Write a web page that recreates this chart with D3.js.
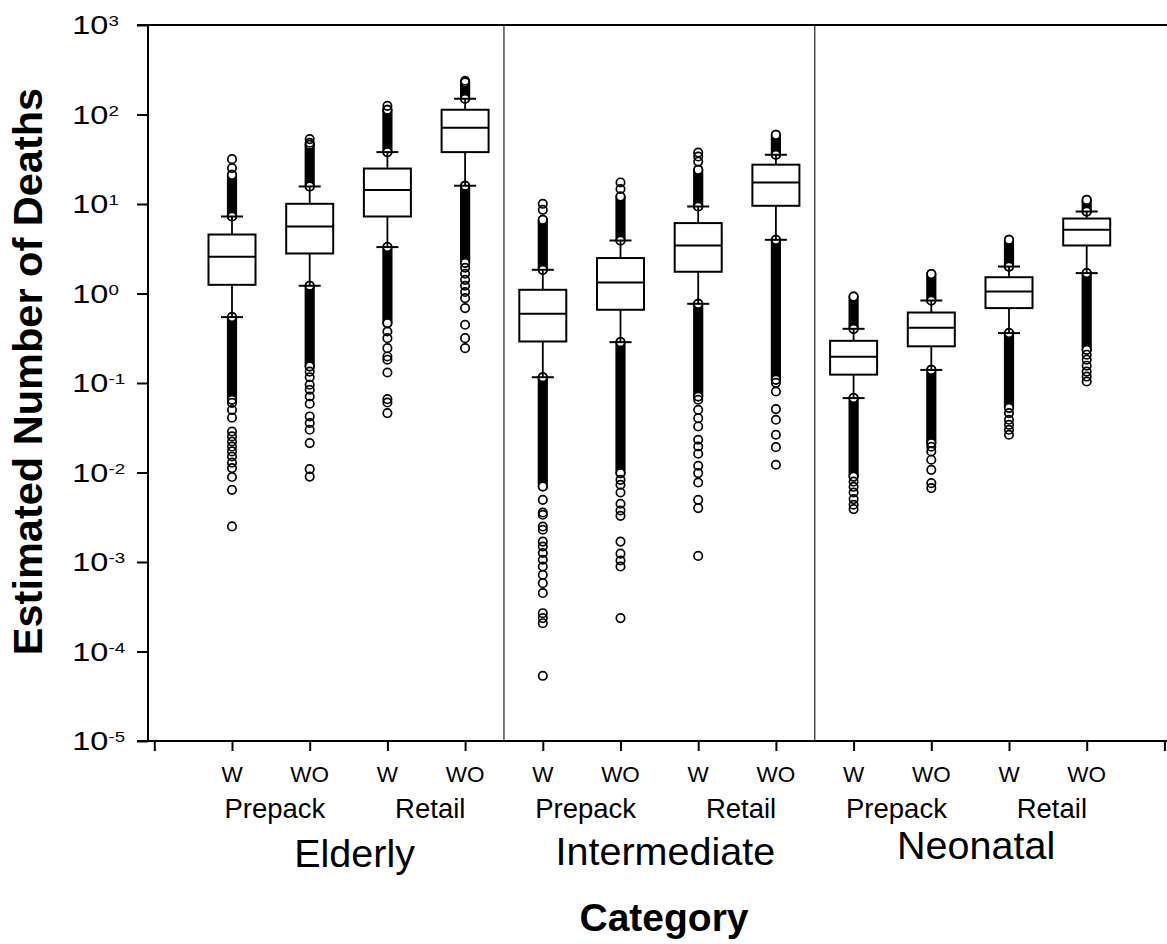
<!DOCTYPE html>
<html>
<head>
<meta charset="utf-8">
<script src="https://cdn.jsdelivr.net/npm/d3@7"></script>
<style>
  html, body { margin: 0; padding: 0; background: #fff; }
  svg { display: block; font-family: "Liberation Sans", Arial, Helvetica, sans-serif; }
</style>
</head>
<body>
<svg id="chart" width="1167" height="944"></svg>
<script>
// Population groups, storage types and treatment levels (boxes run in this nested order)
const groups = ["Elderly", "Intermediate", "Neonatal"];
const storage = ["Prepack", "Retail"];
const treatment = ["W", "WO"];

// Box statistics, one entry per box
const whiskerLow  = [0.545, 1.22, 3.30, 16.0,  0.116, 0.286, 0.767, 3.98,  0.0678, 0.140, 0.361, 1.69];
const q1          = [1.25,  2.80, 7.25, 38.0,  0.291, 0.658, 1.75,  9.55,  0.124,  0.257, 0.687, 3.44];
const median      = [2.57,  5.61, 14.3, 71.0,  0.593, 1.33,  3.44,  17.4,  0.196,  0.414, 1.05,  5.15];
const q3          = [4.56,  10.05, 24.9, 113,  1.10,  2.49,  6.12,  27.5,  0.296,  0.613, 1.52,  6.88];
const whiskerHigh = [7.25,  15.7, 38.0, 150,   1.84,  3.91,  9.38,  35.5,  0.403,  0.835, 2.00,  8.24];

// Ranges where outliers are packed so tightly they merge into a solid run
const upperDense = [[7.25, 21.2], [15.7, 45.9], [38.0, 113], [150, 229],
                    [1.84, 6.65], [3.91, 12.1], [9.38, 24.1], [35.5, 59.3],
                    [0.403, 0.925], [0.835, 1.65], [2.00, 3.98], [8.24, 11.1]];
const lowerDense = [[0.065, 0.545], [0.153, 1.22], [0.467, 3.30], [2.20, 16.0],
                    [0.00698, 0.116], [0.00985, 0.286], [0.0707, 0.767], [0.109, 3.98],
                    [0.0090, 0.0678], [0.0213, 0.140], [0.0528, 0.361], [0.235, 1.69]];

// Separate outliers outside the dense runs
const outliers = [
  [31.7, 25.2, 0.060, 0.050, 0.041, 0.0287, 0.0253, 0.0222, 0.0195, 0.0172, 0.0151, 0.0129, 0.0112, 0.0089, 0.0064, 0.0025],
  [53.1, 48.3, 0.134, 0.116, 0.0955, 0.084, 0.0707, 0.0586, 0.0423, 0.0357, 0.030, 0.0213, 0.0109, 0.0090],
  [125, 0.376, 0.317, 0.245, 0.198, 0.182, 0.131, 0.066, 0.0605, 0.0461],
  [238, 1.94, 1.66, 1.42, 1.22, 1.04, 0.889, 0.687, 0.447, 0.317, 0.245],
  [10.05, 8.61, 0.00495, 0.00357, 0.00337, 0.00249, 0.00229, 0.00169, 0.00149, 0.00126, 0.00106, 0.00089, 0.00072, 0.00058, 0.00045, 0.000268, 0.000236, 0.000207, 0.0000535],
  [17.4, 14.7, 0.00828, 0.00729, 0.00598, 0.00447, 0.00376, 0.00328, 0.00169, 0.00124, 0.00104, 0.00089, 0.000236],
  [37.6, 33.9, 29.8, 0.0649, 0.0502, 0.0405, 0.0327, 0.0232, 0.0195, 0.0162, 0.0119, 0.00985, 0.00773, 0.00495, 0.0040, 0.00117],
  [0.1005, 0.0804, 0.0511, 0.0388, 0.0264, 0.0192, 0.0122],
  [0.00792, 0.00692, 0.00598, 0.00505, 0.00436, 0.0039],
  [0.0194, 0.0172, 0.0139, 0.0107, 0.0076, 0.0067],
  [0.0461, 0.0388, 0.0341, 0.030, 0.0264],
  [0.207, 0.182, 0.156, 0.134, 0.118, 0.104]
];

// Y-axis tick exponents (powers of ten)
const yExponents = [3, 2, 1, 0, -1, -2, -3, -4, -5];

const yTitle = "Estimated Number of Deaths";
const xTitle = "Category";

// ---- layout ----
const svg = d3.select("#chart");
const plotLeft = 148, plotRight = 1167, plotTop = 25, plotBottom = 741;
const slots = 14;                  // one empty slot at each end of the x axis
const boxW = 47, capW = 22, r = 4.2;
const font = '"Liberation Sans", Arial, Helvetica, sans-serif';

const x = d3.scaleLinear().domain([0, slots - 1]).range([154.3, 1164.4]);
const y = d3.scaleLog().domain([1e-5, 1e3]).range([plotBottom, plotTop]);

// Build box records from the arrays
const boxes = [];
groups.forEach((g, gi) => storage.forEach((s, si) => treatment.forEach((t, ti) => {
  const i = gi * 4 + si * 2 + ti;
  boxes.push({
    group: g, storage: s, treatment: t, slot: i + 1 + 0,
    lo: whiskerLow[i], q1: q1[i], med: median[i], q3: q3[i], hi: whiskerHigh[i],
    up: upperDense[i], down: lowerDense[i], out: outliers[i]
  });
})));
boxes.forEach((b, i) => { b.slot = i + 1; });

// Group separators
[4.5, 8.5].forEach(v => {
  svg.append("line")
    .attr("x1", x(v)).attr("x2", x(v))
    .attr("y1", plotTop).attr("y2", plotBottom)
    .attr("stroke", "#333").attr("stroke-width", 1.3);
});

// ---- boxes ----
const gBox = svg.append("g");
boxes.forEach(b => {
  const cx = x(b.slot);
  const g = gBox.append("g");

  // dense outlier runs drawn as solid capsules
  [b.up, b.down].forEach(([a, c]) => {
    const yTop = y(Math.max(a, c)) - (r + 0.9);
    const yBot = y(Math.min(a, c)) + (r + 0.9);
    g.append("rect")
      .attr("x", cx - (r + 0.9)).attr("width", 2 * (r + 0.9))
      .attr("y", yTop).attr("height", yBot - yTop)
      .attr("rx", r + 0.9).attr("fill", "#000");
  });
  // end markers of each dense run
  [b.up[0], b.up[1], b.down[0], b.down[1]].forEach(v => {
    g.append("circle").attr("cx", cx).attr("cy", y(v)).attr("r", r)
      .attr("fill", "#fff").attr("stroke", "#000").attr("stroke-width", 1.7);
  });
  // separate outliers
  g.selectAll("circle.out").data(b.out).join("circle")
    .attr("class", "out")
    .attr("cx", cx).attr("cy", d => y(d)).attr("r", r)
    .attr("fill", "none").attr("stroke", "#000").attr("stroke-width", 1.7);

  // whiskers
  g.append("line").attr("x1", cx).attr("x2", cx)
    .attr("y1", y(b.hi)).attr("y2", y(b.q3)).attr("stroke", "#000").attr("stroke-width", 1.8);
  g.append("line").attr("x1", cx).attr("x2", cx)
    .attr("y1", y(b.q1)).attr("y2", y(b.lo)).attr("stroke", "#000").attr("stroke-width", 1.8);
  [b.hi, b.lo].forEach(v => {
    g.append("line").attr("x1", cx - capW / 2).attr("x2", cx + capW / 2)
      .attr("y1", y(v)).attr("y2", y(v)).attr("stroke", "#000").attr("stroke-width", 2);
  });
  // box and median
  g.append("rect")
    .attr("x", cx - boxW / 2).attr("width", boxW)
    .attr("y", y(b.q3)).attr("height", y(b.q1) - y(b.q3))
    .attr("fill", "#fff").attr("stroke", "#000").attr("stroke-width", 2);
  g.append("line").attr("x1", cx - boxW / 2).attr("x2", cx + boxW / 2)
    .attr("y1", y(b.med)).attr("y2", y(b.med)).attr("stroke", "#000").attr("stroke-width", 2);
});

// ---- axes ----
const yAxis = svg.append("g").attr("transform", `translate(${plotLeft},0)`)
  .call(d3.axisLeft(y).tickValues(yExponents.map(e => Math.pow(10, e))).tickSize(11).tickFormat(""));
yAxis.select(".domain").remove();
yAxis.selectAll(".tick line").attr("stroke", "#000").attr("stroke-width", 2);

const xAxis = svg.append("g").attr("transform", `translate(0,${plotBottom})`)
  .call(d3.axisBottom(x).tickValues(d3.range(slots)).tickSize(10).tickFormat(""));
xAxis.select(".domain").remove();
xAxis.selectAll(".tick line").attr("stroke", "#000").attr("stroke-width", 2);

// frame lines
svg.append("line").attr("x1", plotLeft).attr("x2", plotLeft).attr("y1", plotTop - 1).attr("y2", plotBottom + 1)
  .attr("stroke", "#000").attr("stroke-width", 2);
svg.append("line").attr("x1", plotLeft - 11).attr("x2", plotRight).attr("y1", plotBottom).attr("y2", plotBottom)
  .attr("stroke", "#000").attr("stroke-width", 2);
svg.append("line").attr("x1", plotLeft - 11).attr("x2", plotRight).attr("y1", plotTop).attr("y2", plotTop)
  .attr("stroke", "#000").attr("stroke-width", 2);

// y tick labels: 10 with a raised exponent
yExponents.forEach(e => {
  const t = svg.append("text")
    .attr("transform", `translate(72.3,${y(Math.pow(10, e)) + 9.3}) scale(1.25,1)`)
    .attr("font-family", font).attr("fill", "#000");
  t.append("tspan").attr("font-size", 26).text("10");
  t.append("tspan").attr("font-size", 15).attr("dy", -8.3).text(String(e));
});

// x labels: treatment, storage, group
boxes.forEach(b => {
  svg.append("text").attr("x", x(b.slot)).attr("y", 782)
    .attr("text-anchor", "middle").attr("font-family", font).attr("font-size", 22.5)
    .text(b.treatment);
});
const groupBase = [867, 865, 859];
groups.forEach((g, gi) => {
  storage.forEach((s, si) => {
    const s0 = gi * 4 + si * 2 + 1;
    svg.append("text").attr("x", (x(s0) + x(s0 + 1)) / 2 + 4).attr("y", 818)
      .attr("text-anchor", "middle").attr("font-family", font).attr("font-size", 27.5)
      .text(s);
  });
  const a = gi * 4 + 1;
  svg.append("text").attr("x", (x(a) + x(a + 3)) / 2 + 6).attr("y", groupBase[gi])
    .attr("text-anchor", "middle").attr("font-family", font).attr("font-size", 39.5)
    .text(g);
});

// axis titles
svg.append("text").attr("x", 664).attr("y", 931)
  .attr("text-anchor", "middle").attr("font-family", font).attr("font-size", 39)
  .attr("font-weight", "bold").text(xTitle);
svg.append("text").attr("transform", "translate(42,371.5) rotate(-90)")
  .attr("text-anchor", "middle").attr("font-family", font).attr("font-size", 41.5)
  .attr("font-weight", "bold").text(yTitle);
</script>
</body>
</html>
